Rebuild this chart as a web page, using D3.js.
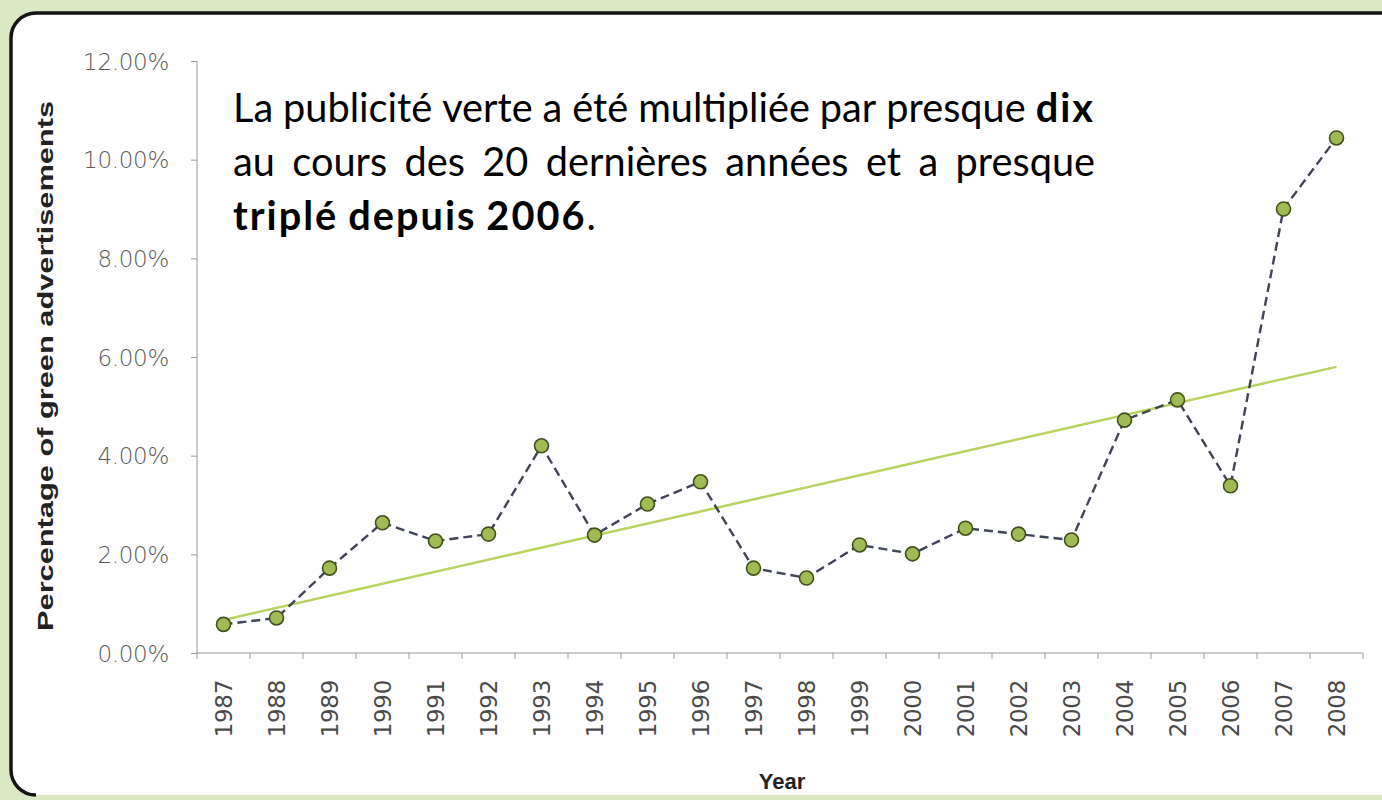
<!DOCTYPE html>
<html>
<head>
<meta charset="utf-8">
<script src="https://cdn.jsdelivr.net/npm/d3@7"></script>
<style>
  body { margin: 0; background: #dbe8c4; overflow: hidden; }
  svg { display: block; }
</style>
</head>
<body>
<svg width="1382" height="800"></svg>
<script>
(function (d3) {
  'use strict';

  // values (percent)
  const years = d3.range(1987, 2009).map(String);
  const shares = [0.58, 0.71, 1.72, 2.64, 2.27, 2.41, 4.20, 2.39, 3.02, 3.47, 1.72,
                  1.52, 2.19, 2.01, 2.53, 2.41, 2.29, 4.72, 5.13, 3.39, 9.00, 10.44];
  const trend = [0.67, 5.80];          // trend line at first and last year
  const yTicks = [0, 2, 4, 6, 8, 10, 12];

  const note = [
    [{t: 'La publicité verte a été multipliée par presque '}, {t: 'dix', b: true}],
    [{t: 'au cours des 20 dernières années et a presque'}],
    [{t: 'triplé depuis 2006', b: true}, {t: '.'}]
  ];

  const svg = d3.select('svg');

  // frame: white panel, dark edge on the left and top only
  svg.append('rect')
    .attr('x', 11).attr('y', 13)
    .attr('width', 1440).attr('height', 782)
    .attr('rx', 24)
    .attr('fill', '#fff');
  svg.append('path')
    .attr('d', 'M36,795 A25,25 0 0 1 11,770 V38 A25,25 0 0 1 36,13 H1400')
    .attr('fill', 'none')
    .attr('stroke', '#151515')
    .attr('stroke-width', 3.5);

  const plotL = 197, plotR = 1363, plotT = 61, plotB = 653;

  const x = d3.scaleBand().domain(years).range([plotL, plotR]);
  const y = d3.scaleLinear().domain([0, 12]).range([plotB, plotT]);
  const cx = d => x(d) + x.bandwidth() / 2;

  // y axis
  const yAxis = svg.append('g')
    .attr('transform', `translate(${plotL},0)`)
    .call(d3.axisLeft(y).tickValues(yTicks).tickSize(6).tickPadding(22)
      .tickFormat(d => d3.format('.2f')(d) + '%'));
  yAxis.select('.domain').attr('stroke', '#999').attr('d', `M0,${plotT}V${plotB}`);
  yAxis.selectAll('.tick line').attr('stroke', '#999');
  yAxis.selectAll('text')
    .attr('fill', '#5a5a5a')
    .attr('dy', '0.36em')
    .style('font-family', '"DejaVu Sans", sans-serif')
    .style('font-weight', '300')
    .style('font-size', '23px')
    .style('letter-spacing', '-0.3px');

  // x axis, ticks on band edges
  const xAxis = svg.append('g')
    .attr('transform', `translate(0,${plotB})`)
    .call(d3.axisBottom(x).tickSize(0).tickPadding(0));
  xAxis.select('.domain').attr('stroke', '#999').attr('d', `M${plotL},0H${plotR}`);
  xAxis.selectAll('.tick text')
    .attr('transform', 'rotate(-90)')
    .attr('x', -27).attr('y', 0).attr('dy', '0.36em')
    .attr('text-anchor', 'end')
    .attr('fill', '#4a4a4a')
    .style('font-family', '"DejaVu Sans", sans-serif')
    .style('font-size', '23px')
    .style('letter-spacing', '-0.3px');
  xAxis.selectAll('.edge')
    .data(years.concat(['end']))
    .enter().append('line')
      .attr('x1', (d, i) => plotL + i * x.step())
      .attr('x2', (d, i) => plotL + i * x.step())
      .attr('y1', 0).attr('y2', 6)
      .attr('stroke', '#999');

  // axis titles
  svg.append('text')
    .attr('x', 782).attr('y', 789)
    .attr('text-anchor', 'middle')
    .style('font-family', '"Liberation Sans", Arial, sans-serif')
    .style('font-weight', 'bold')
    .style('font-size', '22px')
    .attr('fill', '#222')
    .text('Year');

  svg.append('text')
    .attr('transform', 'translate(53,366) rotate(-90)')
    .attr('text-anchor', 'middle')
    .style('font-family', '"Liberation Sans", Arial, sans-serif')
    .style('font-weight', 'bold')
    .style('font-size', '22px')
    .attr('fill', '#222')
    .attr('textLength', 530)
    .attr('lengthAdjust', 'spacingAndGlyphs')
    .text('Percentage of green advertisements');

  // trend line
  svg.append('line')
    .attr('x1', cx(years[0])).attr('y1', y(trend[0]))
    .attr('x2', cx(years[years.length - 1])).attr('y2', y(trend[1]))
    .attr('stroke', '#b8d25e')
    .attr('stroke-width', 2.5);

  // data line
  const line = d3.line().x((d, i) => cx(years[i])).y(d => y(d));
  svg.append('path')
    .datum(shares)
    .attr('d', line)
    .attr('fill', 'none')
    .attr('stroke', '#3f4558')
    .attr('stroke-width', 2.4)
    .attr('stroke-dasharray', '9,5');

  svg.selectAll('.dot')
    .data(shares)
    .enter().append('circle')
      .attr('class', 'dot')
      .attr('cx', (d, i) => cx(years[i]))
      .attr('cy', d => y(d))
      .attr('r', 7)
      .attr('fill', '#a0bb52')
      .attr('stroke', '#434f1e')
      .attr('stroke-width', 1.6);

  // annotation, justified to a fixed width
  const noteX = 233, noteW = 862, lineH = 54;
  const boldSpacing = 2;
  const noteG = svg.append('g')
    .style('font-family', 'Lato, "Open Sans", sans-serif')
    .style('font-size', '40px')
    .attr('fill', '#000');

  // size the font so the first line fills the width with normal spacing
  const probe = noteG.append('text').attr('xml:space', 'preserve');
  note[0].forEach(p => probe.append('tspan')
    .style('font-weight', p.b ? 'bold' : 'normal')
    .style('letter-spacing', p.b ? boldSpacing + 'px' : null)
    .text(p.t));
  const fs = 40 * noteW / probe.node().getComputedTextLength();
  probe.remove();
  noteG.style('font-size', fs + 'px');

  note.forEach((parts, li) => {
    const words = [];
    parts.forEach(p => p.t.split(/(\s+)/).forEach(w => {
      if (!w.trim()) { if (words.length) words[words.length - 1].gap = true; return; }
      words.push({t: w, b: p.b, gap: false});
    }));
    const yy = 122 + li * lineH;
    const nodes = words.map(w => noteG.append('text')
      .attr('y', yy)
      .style('font-weight', w.b ? 'bold' : 'normal')
      .style('letter-spacing', w.b ? boldSpacing + 'px' : null)
      .text(w.t));
    const widths = nodes.map(n => n.node().getComputedTextLength());
    const gaps = words.slice(0, -1).filter(w => w.gap).length;
    const last = li === note.length - 1;
    const extra = last ? fs * 0.25 : (noteW - d3.sum(widths)) / gaps;
    let xx = noteX;
    nodes.forEach((n, i) => {
      n.attr('x', xx);
      xx += widths[i] + (words[i].gap ? extra : 0);
    });
  });

}(d3));
</script>
</body>
</html>
